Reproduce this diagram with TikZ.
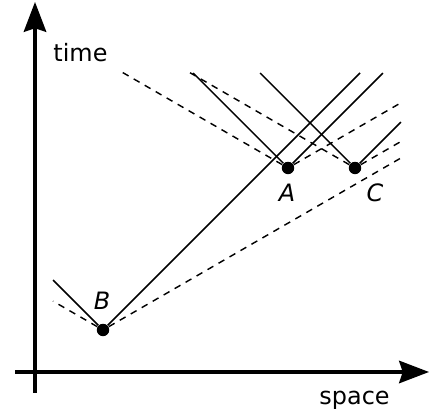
\documentclass[tikz,border=0pt]{standalone}
\usepackage{fontspec}
\setmainfont{DejaVu Sans}
\usetikzlibrary{arrows.meta}

\tikzset{
  axis/.style={line width=1.3pt, -{Stealth[length=12.5pt, width=9.4pt, inset=1.5pt]}},
  event/.style={circle, fill, inner sep=0pt, minimum size=5.2pt},
  lightcone/.style={line width=0.6pt},
  signal/.style={line width=0.6pt, dash pattern=on 2.8pt off 2.5pt},
  evlabel/.style={font=\itshape, inner sep=0pt},
}

\begin{document}
\begin{tikzpicture}[x=1.47mm, y=1.47mm]
  \useasboundingbox (0,0) rectangle (42.9,41.6);

  % axes
  \coordinate (tbot) at (3.5,2.3);
  \coordinate (ttop) at (3.5,41.4);
  \coordinate (sleft) at (1.5,4.4);
  \coordinate (sright) at (42.9,4.4);
  \draw[axis] (tbot) -- (ttop);
  \draw[axis] (sleft) -- (sright);
  \node[anchor=base west, inner sep=0pt] (timelbl) at (5.3,35.4) {time};
  \node[anchor=base west, inner sep=0pt] (spacelbl) at (31.9,1.1) {space};

  % the three events
  \node[event] (B) at (10.3,8.6) {};
  \node[event] (A) at (28.8,24.8) {};
  \node[event] (C) at (35.5,24.8) {};
  \node[evlabel, shift={(-0.1,2.9)}] (Blbl) at (B) {B};
  \node[evlabel, shift={(-0.1,-2.5)}] (Albl) at (A) {A};
  \node[evlabel, shift={(2.0,-2.5)}] (Clbl) at (C) {C};

  % light cones (solid) and slower signals (dashed) from B
  \draw[lightcone] (B) -- ++(135:7.07);
  \draw[lightcone] (B) -- ++(45:36.35);
  \draw[signal] (B) -- ++(150:5.77);
  \draw[signal] (B) -- ++(30:34.3);

  % from A
  \draw[lightcone] (A) -- ++(135:13.43);
  \draw[lightcone] (A) -- ++(45:13.43);
  \draw[signal] (A) -- ++(150:19.17);
  \draw[signal] (A) -- ++(30:13.05);

  % from C
  \draw[lightcone] (C) -- ++(135:13.43);
  \draw[lightcone] (C) -- ++(45:6.5);
  \draw[signal] (C) -- ++(150:19.05);
  \draw[signal] (C) -- ++(30:5.31);

\end{tikzpicture}
\end{document}
